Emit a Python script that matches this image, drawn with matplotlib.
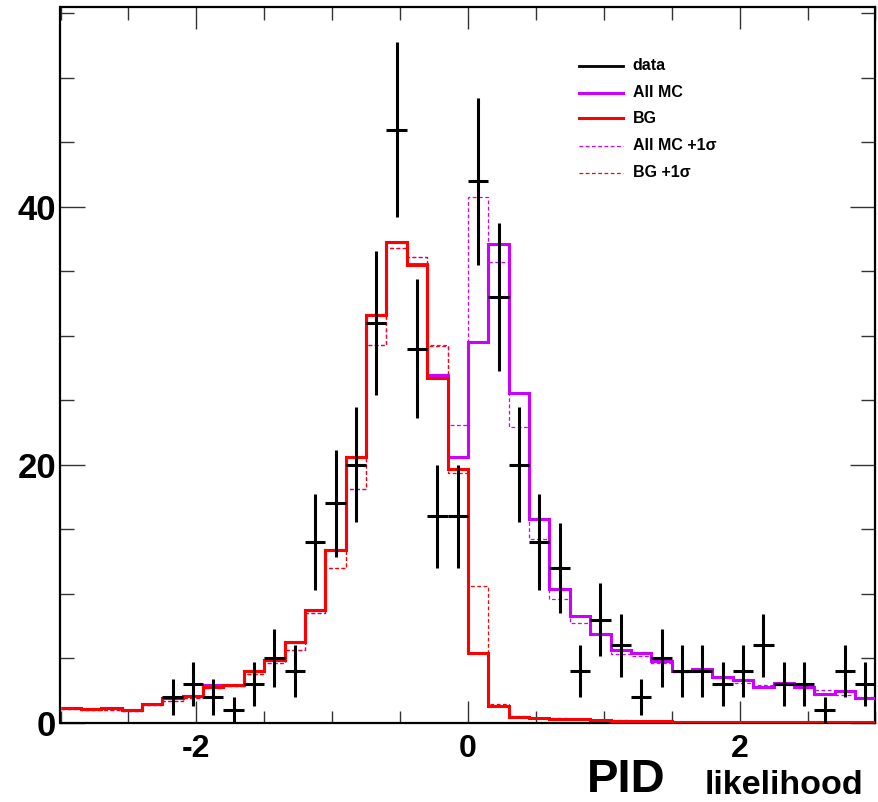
"""
PID likelihood: data vs MC (All MC / BG, nominal and +1 sigma).
"""

import numpy as np
import matplotlib
matplotlib.use("Agg")
import matplotlib.pyplot as plt
from matplotlib.ticker import MultipleLocator

# ---------------------------------------------------------------------------
# Data: 40 bins of width 0.15 on [-3, 3]
# ---------------------------------------------------------------------------
BIN_EDGES = np.linspace(-3.0, 3.0, 41)

DATA_COUNTS = [0, 0, 0, 0, 0, 2, 3, 2, 1, 3,
               5, 4, 14, 17, 20, 31, 46, 29, 16, 16,
               42, 33, 20, 14, 12, 4, 8, 6, 2, 5,
               4, 4, 3, 4, 6, 3, 3, 1, 4, 3]

BG = [1.12, 1.04, 1.14, 1.00, 1.43, 1.89, 2.07, 2.80, 2.92, 4.03,
      4.86, 6.27, 8.74, 13.39, 20.6, 31.58, 37.24, 35.48, 26.74, 19.64,
      5.38, 1.29, 0.42, 0.34, 0.30, 0.26, 0.20, 0.17, 0.12, 0.10,
      0.08, 0.07, 0.06, 0.05, 0.05, 0.04, 0.04, 0.03, 0.03, 0.03]

ALL_MC = [1.12, 1.04, 1.14, 1.00, 1.43, 1.89, 2.07, 2.90, 2.92, 4.03,
          4.86, 6.27, 8.74, 13.39, 20.6, 31.58, 37.24, 35.60, 26.95, 20.60,
          29.5, 37.1, 25.6, 15.8, 10.4, 8.3, 6.9, 5.65, 5.4, 4.8,
          4.0, 4.2, 3.55, 3.35, 2.75, 3.05, 2.8, 2.2, 2.45, 1.95]

BG_UP = [1.10, 0.95, 0.97, 0.90, 1.35, 1.70, 1.90, 2.70, 2.85, 3.77,
         4.65, 5.64, 8.48, 12.0, 18.15, 29.28, 36.85, 36.08, 29.2, 19.33,
         10.62, 1.45, 0.52, 0.38, 0.33, 0.28, 0.22, 0.18, 0.13, 0.11,
         0.09, 0.08, 0.07, 0.06, 0.05, 0.05, 0.04, 0.04, 0.03, 0.03]

ALL_MC_UP = [1.10, 0.95, 0.97, 0.90, 1.35, 1.70, 1.90, 2.70, 2.85, 3.77,
             4.65, 5.64, 8.48, 12.0, 18.15, 29.28, 36.85, 36.1, 29.3, 23.08,
             40.73, 35.7, 22.9, 14.24, 9.59, 7.7, 6.85, 5.33, 5.17, 4.65,
             3.96, 4.0, 3.46, 3.1, 2.9, 2.94, 2.66, 2.5, 2.12, 2.0]

RED = "#ff0000"
MAGENTA = "#cc00ff"
FONT = "Liberation Sans"

plt.rcParams["font.family"] = [FONT, "DejaVu Sans"]
plt.rcParams["font.weight"] = "bold"
plt.rcParams["axes.unicode_minus"] = False

fig = plt.figure(figsize=(8.79, 8.02), dpi=100)
ax = fig.add_axes([60.5 / 879, 1 - 722.7 / 802, 815 / 879, 715.7 / 802])

# --- MC histograms ---
ax.stairs(ALL_MC_UP, BIN_EDGES, baseline=None, color=MAGENTA,
          lw=0.9, linestyle=(0, (3, 2)), zorder=2)
ax.stairs(BG_UP, BIN_EDGES, baseline=None, color=RED,
          lw=0.9, linestyle=(0, (3, 2)), zorder=2)
ax.stairs(ALL_MC, BIN_EDGES, baseline=None, color=MAGENTA, lw=2.2, zorder=3)
ax.stairs(BG, BIN_EDGES, baseline=None, color=RED, lw=2.2, zorder=4)

# --- data points (empty bins not drawn) ---
centers = 0.5 * (BIN_EDGES[:-1] + BIN_EDGES[1:])
counts = np.array(DATA_COUNTS, dtype=float)
mask = counts > 0
ax.errorbar(centers[mask], counts[mask], yerr=np.sqrt(counts[mask]),
            xerr=0.075, fmt="none", ecolor="black", elinewidth=2.2,
            capsize=0, zorder=5)

# --- axes ---
ax.set_xlim(-3, 3)
ax.set_ylim(0, 55.5)
ax.xaxis.set_major_locator(MultipleLocator(2))
ax.xaxis.set_minor_locator(MultipleLocator(0.5))
ax.yaxis.set_major_locator(MultipleLocator(20))
ax.yaxis.set_minor_locator(MultipleLocator(5))
ax.tick_params(which="both", direction="in", top=True, right=True,
               color="#333333", width=1.0)
ax.tick_params(axis="x", which="major", length=16, pad=8, labelsize=23)
ax.tick_params(axis="x", which="minor", length=9)
ax.tick_params(axis="y", which="major", length=18, pad=3, labelsize=25)
ax.tick_params(axis="y", which="minor", length=10)
for lbl in ax.get_xticklabels() + ax.get_yticklabels():
    lbl.set_fontweight("bold")
for sp in ax.spines.values():
    sp.set_linewidth(1.6)

# --- legend (drawn by hand, ROOT style) ---
legend_rows = [
    ("data", "black", 2.0, "-"),
    ("All MC", MAGENTA, 2.2, "-"),
    ("BG", RED, 2.2, "-"),
    ("All MC +1σ", MAGENTA, 0.9, (0, (3, 2))),
    ("BG +1σ", RED, 0.9, (0, (3, 2))),
]
row_y = [0.9176, 0.880, 0.8445, 0.806, 0.7685]
for (label, col, lw, ls), y in zip(legend_rows, row_y):
    ax.plot([0.636, 0.690], [y, y], transform=ax.transAxes, color=col,
            lw=lw, linestyle=ls, clip_on=False)
    ax.text(0.702, y, label, transform=ax.transAxes, fontsize=11.5,
            fontweight="bold", va="center", ha="left")

# --- axis title ---
fig.text(587 / 879, 1 - 792 / 802, "PID", fontsize=34, fontweight="bold",
         ha="left", va="baseline")
fig.text(705 / 879, 1 - 794 / 802, "likelihood", fontsize=24.5,
         fontweight="bold", ha="left", va="baseline")

fig.savefig("out.png", dpi=100)
